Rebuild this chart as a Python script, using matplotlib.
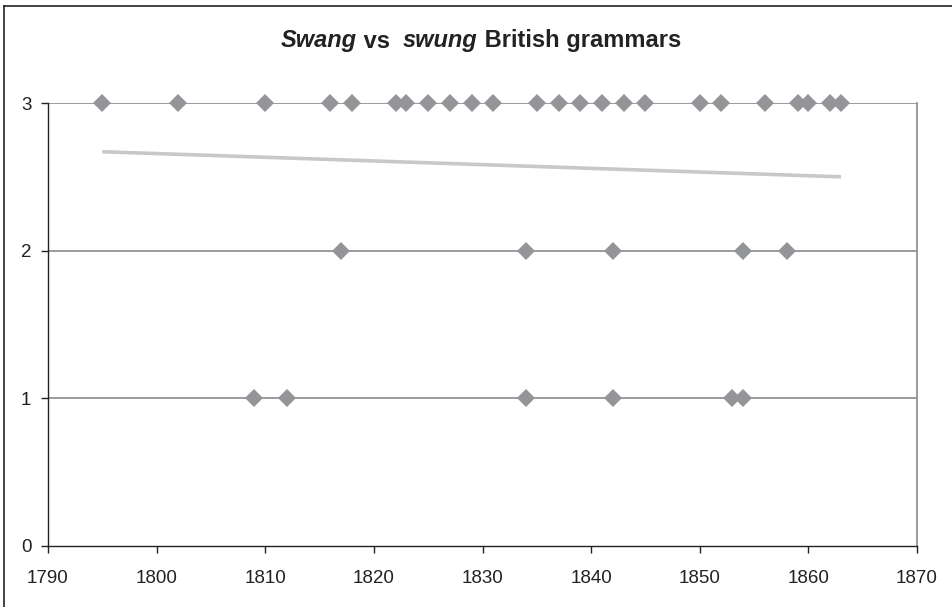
import numpy as np
import matplotlib
matplotlib.use("Agg")
from matplotlib import pyplot as plt

plt.rcParams['font.family'] = ['Liberation Sans', 'DejaVu Sans']

# publication years of the grammars, grouped by score
years_3 = [1795, 1802, 1810, 1816, 1818, 1822, 1823, 1825, 1827, 1829, 1831,
           1835, 1837, 1839, 1841, 1843, 1845, 1850, 1852, 1856, 1859, 1860,
           1862, 1863]
years_2 = [1817, 1834, 1842, 1854, 1858]
years_1 = [1809, 1812, 1834, 1842, 1853, 1854]

# trend line values at first and last year
trend_years = [1795, 1863]
trend_vals = [2.67, 2.50]

x_ticks = [1790, 1800, 1810, 1820, 1830, 1840, 1850, 1860, 1870]
y_ticks = [0, 1, 2, 3]

title_parts = [("Swang", "italic"), (" vs  ", "normal"), ("swung", "italic"),
               (" British grammars", "normal")]

marker_col = "#939598"
grid_col = "#8a8a8a"
trend_col = "#c8c8c8"


def main():
    years = np.array(years_3 + years_2 + years_1, dtype=float)
    scores = np.array([3] * len(years_3) + [2] * len(years_2) + [1] * len(years_1),
                      dtype=float)

    fig = plt.figure(figsize=(9.52, 6.07), dpi=100)
    ax = fig.add_axes([48 / 952, 1 - 546 / 607, (917 - 48) / 952, (546 - 103) / 607])

    ax.plot(trend_years, trend_vals, color=trend_col, lw=2.6, zorder=2,
            solid_capstyle='butt')

    ax.plot(years, scores, linestyle='none', marker='D', markersize=9,
            color=marker_col, markeredgewidth=0, zorder=3, clip_on=False)

    ax.set_xlim(1790, 1870)
    ax.set_ylim(0, 3)
    ax.set_xticks(x_ticks)
    ax.set_yticks(y_ticks)
    for y in y_ticks[1:]:
        ax.axhline(y, color=grid_col, lw=1.2, zorder=1)

    for side in ['left', 'bottom']:
        ax.spines[side].set_color('#222222')
        ax.spines[side].set_linewidth(1.0)
    ax.spines['right'].set_color(grid_col)
    ax.spines['right'].set_linewidth(1.2)
    ax.spines['top'].set_visible(False)
    ax.tick_params(axis='both', direction='out', length=5, width=1,
                   color='#222222', labelsize=13.5, labelcolor='#222222')
    ax.tick_params(axis='y', pad=7)
    ax.tick_params(axis='x', pad=12)

    # outer chart border (picture is cropped on the right and bottom)
    fig.add_artist(plt.Line2D([4 / 952, 4 / 952], [0, 1 - 6 / 607],
                              transform=fig.transFigure, color='#222222', lw=1.2))
    fig.add_artist(plt.Line2D([4 / 952, 1], [1 - 6 / 607, 1 - 6 / 607],
                              transform=fig.transFigure, color='#222222', lw=1.2))

    # title with italic words, assembled piece by piece and centred
    fig.canvas.draw()
    renderer = fig.canvas.get_renderer()
    texts = []
    for s, style in title_parts:
        t = fig.text(0, 1 - 41 / 607, s, fontsize=17, fontweight='bold',
                     fontstyle=style, va='center', ha='left', color='#222222')
        texts.append(t)
    widths = [t.get_window_extent(renderer).width for t in texts]
    total = sum(widths)
    x0 = 481 - total / 2
    for t, w in zip(texts, widths):
        t.set_x(x0 / 952)
        x0 += w

    fig.savefig("out.png", dpi=100)


if __name__ == "__main__":
    main()
